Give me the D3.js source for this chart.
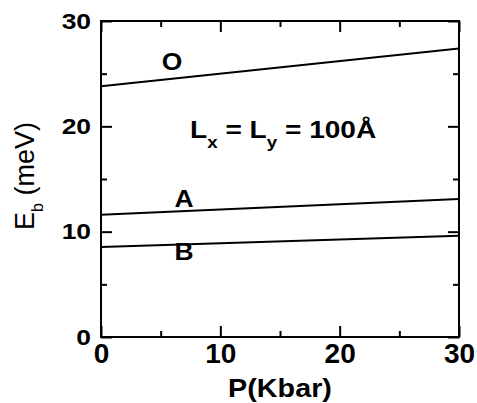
<!DOCTYPE html>
<html>
<head>
<meta charset="utf-8">
<script src="https://cdn.jsdelivr.net/npm/d3@7"></script>
<style>
  body { margin: 0; background: #fff; }
  svg { display: block; font-family: "Liberation Sans", Arial, sans-serif; }
</style>
</head>
<body>
<svg width="477" height="403"></svg>
<script>
// pressure (Kbar) at the two ends of each line
const pressure = [0, 30];
// binding energies (meV)
const curveO = [23.8, 27.4];
const curveA = [11.6, 13.1];
const curveB = [8.55, 9.62];
const curveNames = ['O', 'A', 'B'];

const xMajor = [0, 10, 20, 30];
const xMinor = [5, 15, 25];
const yMajor = [0, 10, 20, 30];
const yMinor = [5, 15, 25];

// label anchors in data units
const labelPos = [[5.95, 25.35], [6.96, 12.34], [6.96, 7.31]];
const notePos = [7.46, 18.9];

function draw() {
    const width = 477;
    const height = 403;
    const padding = { top: 21, right: 18, bottom: 66, left: 101 };
    const svg = d3.select('svg');
    svg.selectAll('*').remove();

    const xScale = d3.scaleLinear()
        .domain([0, 30])
        .range([padding.left, width - padding.right]);
    const yScale = d3.scaleLinear()
        .domain([0, 30])
        .range([height - padding.bottom, padding.top]);

    const x0 = padding.left, x1 = width - padding.right;
    const y0 = height - padding.bottom, y1 = padding.top;

    // Ticks on all four sides, pointing in
    const addAxis = (axis, transform) => {
        const g = svg.append('g').attr('transform', transform).call(axis);
        g.select('.domain').remove();
        g.selectAll('.tick line').attr('stroke', '#000').attr('stroke-width', 2);
        return g;
    };

    const xb = addAxis(d3.axisBottom(xScale).tickValues(xMajor).tickSize(-11).tickPadding(6).tickFormat(d3.format('d')),
        `translate(0,${y0})`);
    xb.selectAll('text')
        .style('font-size', '28px')
        .style('font-weight', 'bold')
        .attr('fill', '#000');
    addAxis(d3.axisBottom(xScale).tickValues(xMinor).tickSize(-6).tickFormat(''), `translate(0,${y0})`);
    addAxis(d3.axisTop(xScale).tickValues(xMajor).tickSize(-11).tickFormat(''), `translate(0,${y1})`);
    addAxis(d3.axisTop(xScale).tickValues(xMinor).tickSize(-6).tickFormat(''), `translate(0,${y1})`);

    const yl = addAxis(d3.axisLeft(yScale).tickValues(yMajor).tickSize(-11).tickFormat(d3.format('d')),
        `translate(${x0},0)`);
    yl.selectAll('text')
        .attr('x', 0)
        .attr('transform', 'translate(-10,0) scale(1.2,1)')
        .style('font-size', '22px')
        .style('font-weight', 'bold')
        .attr('fill', '#000');
    addAxis(d3.axisLeft(yScale).tickValues(yMinor).tickSize(-6).tickFormat(''), `translate(${x0},0)`);
    addAxis(d3.axisRight(yScale).tickValues(yMajor).tickSize(-11).tickFormat(''), `translate(${x1},0)`);
    addAxis(d3.axisRight(yScale).tickValues(yMinor).tickSize(-6).tickFormat(''), `translate(${x1},0)`);

    // Frame
    svg.append('rect')
        .attr('x', x0).attr('y', y1)
        .attr('width', x1 - x0).attr('height', y0 - y1)
        .attr('fill', 'none')
        .attr('stroke', '#000')
        .attr('stroke-width', 2);

    // Lines
    const line = d3.line()
        .x(d => xScale(d[0]))
        .y(d => yScale(d[1]));
    const curves = [curveO, curveA, curveB];
    svg.selectAll('.curve')
        .data(curves)
        .join('path')
        .attr('class', 'curve')
        .attr('d', c => line(pressure.map((p, i) => [p, c[i]])))
        .attr('fill', 'none')
        .attr('stroke', '#000')
        .attr('stroke-width', 2);

    // Curve names
    svg.selectAll('.name')
        .data(curveNames)
        .join('text')
        .attr('class', 'name')
        .attr('transform', (d, i) => `translate(${xScale(labelPos[i][0])},${yScale(labelPos[i][1])}) scale(1.1,1)`)
        .attr('text-anchor', 'middle')
        .style('font-size', '24px')
        .style('font-weight', 'bold')
        .text(d => d);

    // Lx = Ly = 100Å
    const note = svg.append('text')
        .attr('transform', `translate(${xScale(notePos[0])},${yScale(notePos[1])}) scale(1.17,1)`)
        .style('font-size', '24px')
        .style('font-weight', 'bold');
    note.append('tspan').text('L');
    note.append('tspan').attr('dy', 10).style('font-size', '16px').text('x');
    note.append('tspan').attr('dy', -10).text(' = L');
    note.append('tspan').attr('dy', 10).style('font-size', '16px').text('y');
    note.append('tspan').attr('dy', -10).text(' = 100Å');

    // Axis titles
    svg.append('text')
        .attr('transform', `translate(${(x0 + x1) / 2},397) scale(1.15,1)`)
        .attr('text-anchor', 'middle')
        .style('font-size', '25px')
        .style('font-weight', 'bold')
        .text('P(Kbar)');

    const yt = svg.append('text')
        .attr('transform', 'translate(34,176) rotate(-90)')
        .attr('text-anchor', 'middle')
        .style('font-size', '27px');
    yt.append('tspan').text('E');
    yt.append('tspan').attr('dy', 9).style('font-size', '16px').text('b');
    yt.append('tspan').attr('dy', -9).text(' (meV)');
}

window.addEventListener('load', draw);
</script>
</body>
</html>
